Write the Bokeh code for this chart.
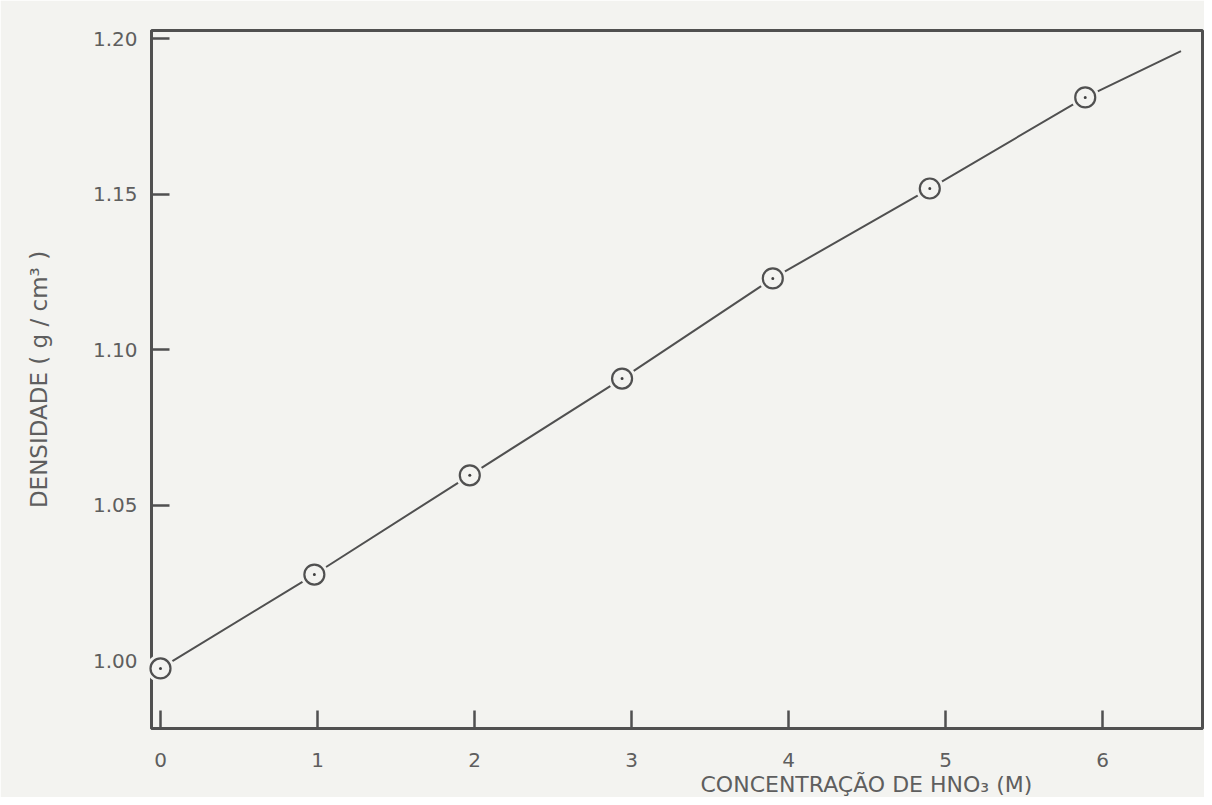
from bokeh.plotting import figure
from bokeh.models import Range1d, FixedTicker, Title
from bokeh.embed import file_html
from bokeh.resources import INLINE

# ---- data ----
conc = [0.0, 0.98, 1.97, 2.94, 3.90, 4.90, 5.89]          # HNO3 concentration (M)
dens = [0.9975, 1.0277, 1.0596, 1.0907, 1.1229, 1.1518, 1.1811]  # density (g/cm3)
curve_x = conc + [6.50]        # drawn curve continues past last point
curve_y = dens + [1.196]
x_ticks = [0, 1, 2, 3, 4, 5, 6]
y_ticks = [1.00, 1.05, 1.10, 1.15, 1.20]
y_tick_labels = {1.00: "1.00", 1.05: "1.05", 1.10: "1.10", 1.15: "1.15", 1.20: "1.20"}

BG = "#f3f3f0"
INK = "#505050"
TXT = "#5e5e5e"
FONT = "DejaVu Sans"

p = figure(width=1204, height=797, output_backend="svg", toolbar_location=None,
           x_range=Range1d(-0.0573, 6.637), y_range=Range1d(0.9782, 1.2026),
           min_border_left=151, min_border_right=2, min_border_top=30,
           min_border_bottom=69)
p.background_fill_color = BG
p.border_fill_color = BG
p.grid.visible = False
p.outline_line_color = INK
p.outline_line_width = 3

for ax in (p.xaxis[0], p.yaxis[0]):
    ax.axis_line_color = INK
    ax.axis_line_width = 3
    ax.major_tick_in = 18
    ax.major_tick_out = 0
    ax.major_tick_line_color = INK
    ax.major_tick_line_width = 2.5
    ax.minor_tick_line_color = None
    ax.major_label_text_font = FONT
    ax.major_label_text_font_size = "20px"
    ax.major_label_text_color = TXT

p.xaxis.ticker = FixedTicker(ticks=x_ticks)
p.yaxis.ticker = FixedTicker(ticks=y_ticks)
p.yaxis.major_label_overrides = y_tick_labels
p.xaxis.major_label_standoff = 24
p.yaxis.major_label_standoff = 14

p.yaxis.axis_label = "DENSIDADE ( g / cm³ )"
p.yaxis.axis_label_text_font = FONT
p.yaxis.axis_label_text_font_style = "normal"
p.yaxis.axis_label_text_font_size = "23px"
p.yaxis.axis_label_text_color = TXT
p.yaxis.axis_label_standoff = 38

# curve
p.line(curve_x, curve_y, line_color=INK, line_width=2)

# points: background ring (gap in line), circle, centre dot
p.scatter(conc, dens, size=28, fill_color=BG, line_color=None, level="overlay")
p.scatter(conc, dens, size=20, fill_color=None, line_color=INK, line_width=2.2, level="overlay")
p.scatter(conc, dens, size=3, fill_color="#404040", line_color=None, level="overlay")

xtitle = Title(text="CONCENTRAÇÃO DE HNO₃ (M)", align="left", offset=549, standoff=0,
               text_font=FONT, text_font_size="22px", text_font_style="normal",
               text_color=TXT)
p.add_layout(xtitle, "below")

html = file_html(p, INLINE)
html = html.replace("<body>", '<body style="background-color:#f3f3f0;">', 1)
open("out.html", "w").write(html)
